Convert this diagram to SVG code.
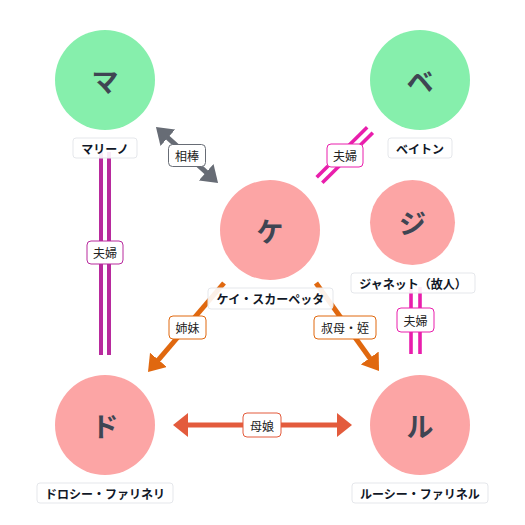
<svg xmlns="http://www.w3.org/2000/svg" width="525" height="525" viewBox="0 0 525 525">
<style>
  .bg{fill:#ffffff}
  .green{fill:#86efac}
  .pink{fill:#fca5a5}
  .glyph{font-family:"Noto Sans CJK JP","Noto Sans",sans-serif;font-size:27px;font-weight:700;fill:#3f4553;text-anchor:middle;dominant-baseline:central}
  .nbox{fill:#ffffff;fill-opacity:0.9;stroke:#e5e7eb;stroke-width:1}
  .ntext{font-family:"Noto Sans CJK JP","Noto Sans",sans-serif;font-size:12px;font-weight:700;fill:#111827;text-anchor:middle;dominant-baseline:central}
  .ebox{fill:#ffffff;stroke-width:1}
  .etext{font-family:"Noto Sans CJK JP","Noto Sans",sans-serif;font-size:12px;font-weight:400;fill:#222222;text-anchor:middle;dominant-baseline:central}
  .gray{stroke:#676c75;stroke-width:5;fill:none}
  .orange{stroke:#e0680f;stroke-width:5;fill:none}
  .red{stroke:#e35b3c;stroke-width:5;fill:none}
  .mag1{stroke:#b82a9d;stroke-width:4;fill:none}
  .mag2{stroke:#e91eac;stroke-width:3.6;fill:none}
</style>
<defs>
  <marker id="mg" viewBox="0 0 16 22" refX="1" refY="11" markerWidth="16" markerHeight="22" markerUnits="userSpaceOnUse" orient="auto-start-reverse">
    <path d="M0,0 L16,11 L0,22 z" fill="#676c75"/>
  </marker>
  <marker id="mo" viewBox="0 0 16 22" refX="1" refY="11" markerWidth="16" markerHeight="22" markerUnits="userSpaceOnUse" orient="auto-start-reverse">
    <path d="M0,0 L16,11 L0,22 z" fill="#e0680f"/>
  </marker>
  <marker id="mr" viewBox="0 0 15 24" refX="1" refY="12" markerWidth="15" markerHeight="24" markerUnits="userSpaceOnUse" orient="auto-start-reverse">
    <path d="M0,0 L15,12 L0,24 z" fill="#e35b3c"/>
  </marker>
</defs>
<rect class="bg" x="0" y="0" width="525" height="525"/>

<g id="connectors">
  <g id="e-partner">
    <line class="gray" x1="167.1" y1="137.1" x2="206.9" y2="172.9" marker-start="url(#mg)" marker-end="url(#mg)"/>
    <rect class="ebox" x="168.5" y="144.5" width="37" height="22" rx="4" stroke="#676c75"/>
    <text class="etext" x="187" y="155.5">相棒</text>
  </g>
  <g id="e-couple-be">
    <line class="mag2" x1="316.7" y1="177.2" x2="367.2" y2="127.2"/>
    <line class="mag2" x1="322.3" y1="182.8" x2="372.8" y2="132.8"/>
    <rect class="ebox" x="327" y="144" width="36" height="23" rx="4" stroke="#e91eac"/>
    <text class="etext" x="345" y="155.5">夫婦</text>
  </g>
  <g id="e-couple-ma">
    <line class="mag1" x1="101" y1="152" x2="101" y2="355"/>
    <line class="mag1" x1="109" y1="152" x2="109" y2="355"/>
    <rect class="ebox" x="87" y="241" width="36" height="23" rx="4" stroke="#b82a9d"/>
    <text class="etext" x="105" y="252.5">夫婦</text>
  </g>
  <g id="e-couple-ji">
    <line class="mag2" x1="411" y1="287" x2="411" y2="354"/>
    <line class="mag2" x1="420" y1="287" x2="420" y2="354"/>
    <rect class="ebox" x="397" y="308" width="37" height="24" rx="4" stroke="#e91eac"/>
    <text class="etext" x="415.5" y="320">夫婦</text>
  </g>
  <g id="e-sister">
    <line class="orange" x1="224" y1="283" x2="157.75" y2="360.6" marker-end="url(#mo)"/>
    <rect class="ebox" x="169" y="316" width="37" height="23" rx="4" stroke="#e0680f"/>
    <text class="etext" x="187.5" y="327.5">姉妹</text>
  </g>
  <g id="e-aunt">
    <line class="orange" x1="316" y1="283" x2="370.3" y2="358.8" marker-end="url(#mo)"/>
    <rect class="ebox" x="314" y="316" width="62" height="23" rx="4" stroke="#e0680f"/>
    <text class="etext" x="345" y="327.5">叔母・姪</text>
  </g>
  <g id="e-mother">
    <line class="red" x1="187" y1="425" x2="338" y2="425" marker-start="url(#mr)" marker-end="url(#mr)"/>
    <rect class="ebox" x="243" y="413" width="38" height="24" rx="4" stroke="#e35b3c"/>
    <text class="etext" x="262" y="425">母娘</text>
  </g>
</g>

<g id="node-ma">
  <circle class="green" cx="105" cy="80" r="50"/>
  <text class="glyph" x="105" y="80">マ</text>
  <rect class="nbox" x="73" y="138" width="64" height="20" rx="3"/>
  <text class="ntext" x="105" y="148">マリーノ</text>
</g>
<g id="node-be">
  <circle class="green" cx="420" cy="80" r="50"/>
  <text class="glyph" x="420" y="80">ベ</text>
  <rect class="nbox" x="388" y="138" width="64" height="20" rx="3"/>
  <text class="ntext" x="420" y="148">ベイトン</text>
</g>
<g id="node-ke">
  <circle class="pink" cx="270" cy="230" r="50"/>
  <text class="glyph" x="270" y="230">ケ</text>
  <rect class="nbox" x="208" y="288" width="125" height="21" rx="3"/>
  <text class="ntext" x="270.5" y="298.5">ケイ・スカーペッタ</text>
</g>
<g id="node-ji">
  <circle class="pink" cx="412.5" cy="222.5" r="42.5"/>
  <text class="glyph" x="412.5" y="222.5">ジ</text>
  <rect class="nbox" x="351" y="273" width="124" height="20" rx="3"/>
  <text class="ntext" x="413" y="283">ジャネット（故人）</text>
</g>
<g id="node-do">
  <circle class="pink" cx="105" cy="425" r="50"/>
  <text class="glyph" x="105" y="425">ド</text>
  <rect class="nbox" x="37" y="483" width="136" height="20" rx="3"/>
  <text class="ntext" x="105" y="493">ドロシー・ファリネリ</text>
</g>
<g id="node-ru">
  <circle class="pink" cx="420" cy="425" r="50"/>
  <text class="glyph" x="420" y="425">ル</text>
  <rect class="nbox" x="352" y="483" width="136" height="20" rx="3"/>
  <text class="ntext" x="420" y="493">ルーシー・ファリネル</text>
</g>
</svg>
